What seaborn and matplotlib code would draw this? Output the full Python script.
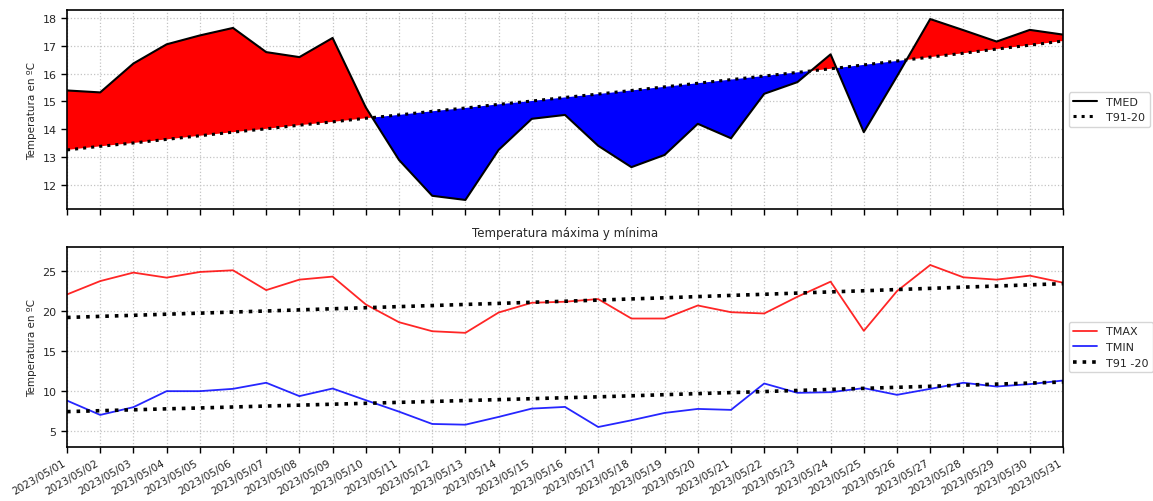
import matplotlib
matplotlib.use("Agg")
import matplotlib.pyplot as plt
import matplotlib.dates as mdates
import numpy as np
import pandas as pd
import seaborn as sns

dates = pd.date_range("2023-05-01", "2023-05-31", freq="D")

tmed = [15.39, 15.32, 16.36, 17.05, 17.37, 17.64, 16.77, 16.59, 17.28, 14.78,
        12.89, 11.60, 11.45, 13.25, 14.37, 14.51, 13.40, 12.63, 13.07, 14.19,
        13.67, 15.27, 15.69, 16.69, 13.89, 15.90, 17.96, 17.56, 17.15, 17.57, 17.40]
tmed_norm = [13.25, 13.38, 13.50, 13.63, 13.76, 13.89, 14.01, 14.14, 14.26, 14.39,
             14.51, 14.64, 14.76, 14.89, 15.01, 15.14, 15.26, 15.39, 15.52, 15.65,
             15.78, 15.91, 16.04, 16.17, 16.31, 16.45, 16.59, 16.73, 16.88, 17.02, 17.17]

tmax = [22.07, 23.74, 24.80, 24.17, 24.88, 25.09, 22.61, 23.92, 24.30, 20.82,
        18.60, 17.47, 17.27, 19.81, 21.03, 21.16, 21.49, 19.06, 19.06, 20.69,
        19.85, 19.69, 21.78, 23.67, 17.52, 22.49, 25.75, 24.21, 23.92, 24.42, 23.54]
tmin = [8.80, 7.01, 7.98, 9.98, 9.98, 10.27, 11.03, 9.36, 10.31, 8.85,
        7.42, 5.88, 5.79, 6.76, 7.80, 8.01, 5.50, 6.34, 7.26, 7.76,
        7.64, 10.94, 9.77, 9.85, 10.36, 9.52, 10.27, 11.03, 10.56, 10.86, 11.31]
tmax_norm = [19.19, 19.33, 19.46, 19.60, 19.73, 19.87, 20.00, 20.14, 20.28, 20.41,
             20.55, 20.68, 20.82, 20.95, 21.09, 21.22, 21.36, 21.51, 21.65, 21.80,
             21.95, 22.09, 22.24, 22.39, 22.53, 22.68, 22.83, 22.98, 23.12, 23.27, 23.42]
tmin_norm = [7.42, 7.54, 7.65, 7.77, 7.88, 8.00, 8.12, 8.23, 8.35, 8.46,
             8.58, 8.69, 8.81, 8.92, 9.04, 9.16, 9.27, 9.40, 9.54, 9.67,
             9.80, 9.93, 10.07, 10.20, 10.33, 10.46, 10.59, 10.73, 10.86, 10.99, 11.12]

df = pd.DataFrame({"fecha": dates, "TMED": tmed, "TN": tmed_norm,
                   "TMAX": tmax, "TMIN": tmin, "TXN": tmax_norm, "TNN": tmin_norm})

sns.set_style("white")
plt.rcParams["font.family"] = ["DejaVu Sans"]
plt.rcParams["axes.edgecolor"] = "black"

fig = plt.figure(figsize=(11.53, 5.02), dpi=100)
ax1 = fig.add_axes([67/1153, 1-210/502, 996/1153, 199/502])
ax2 = fig.add_axes([67/1153, 1-448/502, 996/1153, 200/502])

# --- top panel ---
y = np.array(tmed); n = np.array(tmed_norm)
ax1.fill_between(df["fecha"], y, n, where=y >= n, interpolate=True, color="red", lw=0, zorder=1)
ax1.fill_between(df["fecha"], y, n, where=y <= n, interpolate=True, color="blue", lw=0, zorder=1)
sns.lineplot(data=df, x="fecha", y="TMED", ax=ax1, color="black", lw=1.5, label="TMED", zorder=3)
sns.lineplot(data=df, x="fecha", y="TN", ax=ax1, color="black", lw=2.2, ls=":", label="T91-20", zorder=3)
ax1.set_yticks([12, 13, 14, 15, 16, 17, 18])
ax1.set_ylabel("Temperatura en ºC", fontsize=7.5)
ax1.set_xlabel("")
ax1.tick_params(axis="x", labelbottom=False)
ax1.legend(loc="center left", bbox_to_anchor=(1.0, 0.5), fontsize=8, frameon=True,
           handlelength=2.2, borderaxespad=0.5)

# --- bottom panel ---
sns.lineplot(data=df, x="fecha", y="TMAX", ax=ax2, color="red", alpha=0.85, lw=1.3, label="TMAX")
sns.lineplot(data=df, x="fecha", y="TMIN", ax=ax2, color="blue", alpha=0.85, lw=1.3, label="TMIN")
sns.lineplot(data=df, x="fecha", y="TXN", ax=ax2, color="black", lw=2.6, ls=":", label="T91 -20")
sns.lineplot(data=df, x="fecha", y="TNN", ax=ax2, color="black", lw=2.6, ls=":")
ax2.set_ylim(3, 28)
ax2.set_yticks([5, 10, 15, 20, 25])
ax2.set_ylabel("Temperatura en ºC", fontsize=7.5)
ax2.set_xlabel("")
ax2.set_title("Temperatura máxima y mínima", fontsize=8.5, pad=8)
ax2.legend(loc="center left", bbox_to_anchor=(1.0, 0.5), fontsize=8, frameon=True,
           handlelength=2.2, borderaxespad=0.5)

for ax in (ax1, ax2):
    ax.set_xlim(dates[0], dates[-1])
    ax.set_xticks(dates)
    ax.xaxis.set_major_formatter(mdates.DateFormatter("%Y/%m/%d"))
    ax.grid(True, ls=":", color="#c4c4c4", lw=0.9)
    ax.tick_params(axis="both", which="both", direction="out", length=4, width=1,
                   labelsize=8, left=True, bottom=True, color="black")
    for s in ax.spines.values():
        s.set_color("black"); s.set_linewidth(1.2)

plt.setp(ax2.get_xticklabels(), rotation=30, ha="right", fontsize=7.5)

fig.savefig("out.png", dpi=100)
